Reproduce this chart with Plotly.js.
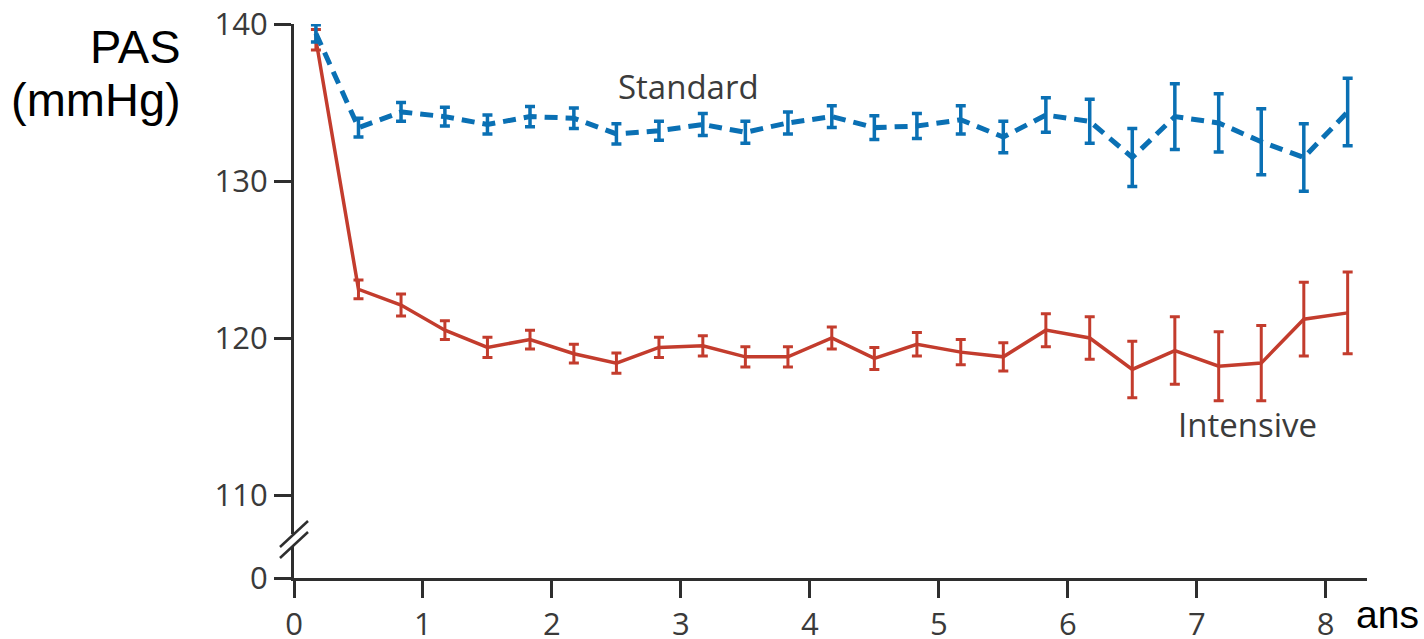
<!DOCTYPE html>
<html>
<head>
<meta charset="utf-8">
<script src="https://cdn.plot.ly/plotly-3.0.1.min.js"></script>
<style>
  html, body { margin: 0; padding: 0; background: #ffffff; }
  #chart { width: 1424px; height: 639px; }
</style>
</head>
<body>
<div id="chart"></div>
<script>
// ---- data ----
const years = [0.17, 0.5, 0.83, 1.17, 1.5, 1.83, 2.17, 2.5, 2.83, 3.17, 3.5, 3.83, 4.17,
               4.5, 4.83, 5.17, 5.5, 5.83, 6.17, 6.5, 6.83, 7.17, 7.5, 7.83, 8.17];

const standard    = [139.4, 133.4, 134.4, 134.1, 133.6, 134.1, 134.0, 133.0, 133.2, 133.6, 133.1, 133.7, 134.1,
                     133.4, 133.5, 133.9, 132.8, 134.2, 133.8, 131.5, 134.1, 133.7, 132.5, 131.5, 134.4];
const standardErr = [0.55, 0.6, 0.6, 0.6, 0.6, 0.65, 0.65, 0.65, 0.6, 0.7, 0.7, 0.7, 0.7,
                     0.75, 0.8, 0.9, 1.0, 1.1, 1.4, 1.85, 2.1, 1.85, 2.1, 2.15, 2.15];

const intensive    = [139.0, 123.1, 122.1, 120.5, 119.4, 119.9, 119.0, 118.4, 119.4, 119.5, 118.8, 118.8, 120.0,
                      118.7, 119.6, 119.1, 118.8, 120.5, 120.0, 118.0, 119.2, 118.2, 118.4, 121.2, 121.6];
const intensiveErr = [0.65, 0.6, 0.7, 0.6, 0.65, 0.6, 0.6, 0.65, 0.65, 0.65, 0.65, 0.65, 0.7,
                      0.7, 0.75, 0.8, 0.9, 1.05, 1.35, 1.8, 2.15, 2.2, 2.4, 2.35, 2.6];

const xTicks = [0, 1, 2, 3, 4, 5, 6, 7, 8];
const yTicks = [110, 120, 130, 140];
const yBreakTicks = [0];

const seriesNames = ['Standard', 'Intensive'];
const yTitleLines = ['PAS', '(mmHg)'];
const xTitle = 'ans';

// ---- styles ----
const BLUE = '#0a70b4';
const RED = '#c33c2d';
const AXIS = '#2e2e2e';
const TICKTXT = '#3a3a3a';
const tickFont = { family: 'Open Sans, sans-serif', size: 31, color: TICKTXT };

const traces = [
  {
    x: years, y: intensive, type: 'scatter', mode: 'lines', name: seriesNames[1],
    line: { color: RED, width: 3.5 },
    error_y: { type: 'data', array: intensiveErr, visible: true, color: RED, thickness: 3, width: 5 },
    xaxis: 'x', yaxis: 'y', hoverinfo: 'skip'
  },
  {
    x: years, y: standard, type: 'scatter', mode: 'lines', name: seriesNames[0],
    line: { color: BLUE, width: 5, dash: '13px,8px' },
    error_y: { type: 'data', array: standardErr, visible: true, color: BLUE, thickness: 3.5, width: 5 },
    xaxis: 'x', yaxis: 'y', hoverinfo: 'skip'
  },
  { x: [], y: [], type: 'scatter', mode: 'lines', xaxis: 'x', yaxis: 'y2', hoverinfo: 'skip' }
];

// plot area in pixels: left 294, right 1367, top 24, bottom 578
const W = 1424, H = 639;
const L = 294, R = 57, T = 24, B = 61;
const pw = W - L - R, ph = H - T - B;
const px = v => (v - L) / pw;
const py = v => (H - B - v) / ph;

const yBotTop = py(546);   // top of the "0" segment
const yMainBot = py(534);  // bottom of the main segment
const pxPerUnit = 15.7;
const mainMin = 140 - (534 - 24) / pxPerUnit;

const axisCommon = {
  showline: true, linecolor: AXIS, linewidth: 3,
  ticks: 'outside', tickcolor: AXIS, tickwidth: 3,
  showgrid: false, zeroline: false, tickfont: tickFont, fixedrange: true
};

const layout = {
  width: W, height: H,
  margin: { l: L, r: R, t: T, b: B, pad: 0 },
  paper_bgcolor: '#ffffff', plot_bgcolor: '#ffffff',
  showlegend: false, hovermode: false,
  xaxis: Object.assign({}, axisCommon, {
    range: [0, 8.32], tickvals: xTicks, ticklen: 17, anchor: 'y2', ticklabelstandoff: 0
  }),
  yaxis: Object.assign({}, axisCommon, {
    domain: [yMainBot, 1], range: [mainMin, 140], tickvals: yTicks, ticklen: 17, anchor: 'x'
  }),
  yaxis2: Object.assign({}, axisCommon, {
    domain: [0, yBotTop], range: [0, 1], tickvals: yBreakTicks, ticklen: 17, anchor: 'x'
  }),
  shapes: [
    { type: 'line', xref: 'paper', yref: 'paper', x0: px(280), y0: py(547), x1: px(308), y1: py(521),
      line: { color: AXIS, width: 2.5 } },
    { type: 'line', xref: 'paper', yref: 'paper', x0: px(280), y0: py(558), x1: px(308), y1: py(532),
      line: { color: AXIS, width: 2.5 } }
  ],
  annotations: [
    { text: seriesNames[0], x: 3.06, y: 136.0, xref: 'x', yref: 'y', showarrow: false,
      xanchor: 'center', yanchor: 'middle',
      font: { family: 'Open Sans, sans-serif', size: 33, color: '#3b3b3b' } },
    { text: seriesNames[1], x: 7.39, y: 114.46, xref: 'x', yref: 'y', showarrow: false,
      xanchor: 'center', yanchor: 'middle',
      font: { family: 'Open Sans, sans-serif', size: 33, color: '#3b3b3b' } },
    { text: yTitleLines[0], x: px(183), y: py(46), xref: 'paper', yref: 'paper', showarrow: false,
      xanchor: 'right', yanchor: 'middle',
      font: { family: 'Liberation Sans, Arial, sans-serif', size: 47, color: '#000000' } },
    { text: yTitleLines[1], x: px(183), y: py(100), xref: 'paper', yref: 'paper', showarrow: false,
      xanchor: 'right', yanchor: 'middle',
      font: { family: 'Liberation Sans, Arial, sans-serif', size: 47, color: '#000000' } },
    { text: xTitle, x: px(1354), y: py(614), xref: 'paper', yref: 'paper', showarrow: false,
      xanchor: 'left', yanchor: 'middle',
      font: { family: 'Liberation Sans, Arial, sans-serif', size: 39, color: '#000000' } }
  ]
};

Plotly.newPlot('chart', traces, layout, { staticPlot: true, displayModeBar: false });
</script>
</body>
</html>
